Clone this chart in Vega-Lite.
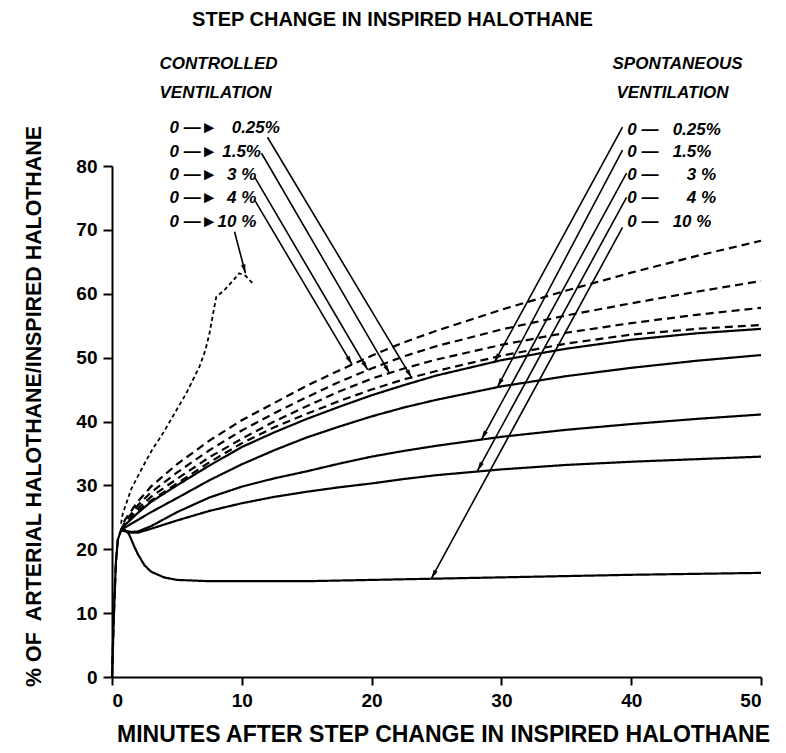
{
  "$schema": "https://vega.github.io/schema/vega-lite/v6.json",
  "width": 649,
  "height": 511,
  "autosize": {"type": "none"},
  "padding": {"left": 112, "top": 166, "right": 25, "bottom": 76},
  "background": "white",
  "title": {
    "text": "STEP CHANGE IN INSPIRED HALOTHANE",
    "font": "Liberation Sans",
    "fontSize": 20,
    "fontWeight": "bold",
    "color": "black",
    "dx": -44,
    "offset": 25
  },
  "config": {
    "view": {"stroke": null},
    "axis": {
      "grid": false,
      "domainColor": "black",
      "domainWidth": 2,
      "tickColor": "black",
      "tickWidth": 2,
      "tickSize": 9,
      "labelFont": "Liberation Sans",
      "labelFontWeight": "bold",
      "labelFontSize": 19,
      "labelColor": "black",
      "labelPadding": 6,
      "titleFont": "Liberation Sans",
      "titleFontWeight": "bold",
      "titleFontSize": 23,
      "titleColor": "black"
    }
  },
  "datasets": {
    "curves": [
      {"v": "controlled", "c": "4%", "x": 0, "y": 0}, {"v": "controlled", "c": "4%", "x": 0.15, "y": 10}, {"v": "controlled", "c": "4%", "x": 0.3, "y": 18}, {"v": "controlled", "c": "4%", "x": 0.45, "y": 21.5}, {"v": "controlled", "c": "4%", "x": 0.7, "y": 23},
      {"v": "controlled", "c": "4%", "x": 1, "y": 24.6}, {"v": "controlled", "c": "4%", "x": 2, "y": 27.5}, {"v": "controlled", "c": "4%", "x": 3, "y": 29.8}, {"v": "controlled", "c": "4%", "x": 5, "y": 33.3}, {"v": "controlled", "c": "4%", "x": 7.5, "y": 37}, {"v": "controlled", "c": "4%", "x": 10, "y": 40.2}, {"v": "controlled", "c": "4%", "x": 12.5, "y": 42.9}, {"v": "controlled", "c": "4%", "x": 15, "y": 45.6}, {"v": "controlled", "c": "4%", "x": 17.5, "y": 48}, {"v": "controlled", "c": "4%", "x": 20, "y": 50.3}, {"v": "controlled", "c": "4%", "x": 22.5, "y": 52.4}, {"v": "controlled", "c": "4%", "x": 25, "y": 54.2}, {"v": "controlled", "c": "4%", "x": 30, "y": 57.5}, {"v": "controlled", "c": "4%", "x": 35, "y": 60.5}, {"v": "controlled", "c": "4%", "x": 40, "y": 63.3}, {"v": "controlled", "c": "4%", "x": 45, "y": 65.9}, {"v": "controlled", "c": "4%", "x": 50, "y": 68.3},

      {"v": "controlled", "c": "3%", "x": 0.7, "y": 23}, {"v": "controlled", "c": "3%", "x": 1, "y": 24.3}, {"v": "controlled", "c": "3%", "x": 2, "y": 26.9}, {"v": "controlled", "c": "3%", "x": 3, "y": 28.9}, {"v": "controlled", "c": "3%", "x": 5, "y": 32}, {"v": "controlled", "c": "3%", "x": 7.5, "y": 35.5}, {"v": "controlled", "c": "3%", "x": 10, "y": 38.6}, {"v": "controlled", "c": "3%", "x": 12.5, "y": 41.3}, {"v": "controlled", "c": "3%", "x": 15, "y": 43.8}, {"v": "controlled", "c": "3%", "x": 17.5, "y": 46.2}, {"v": "controlled", "c": "3%", "x": 20, "y": 48.3}, {"v": "controlled", "c": "3%", "x": 22.5, "y": 50.2}, {"v": "controlled", "c": "3%", "x": 25, "y": 51.8}, {"v": "controlled", "c": "3%", "x": 30, "y": 54.4}, {"v": "controlled", "c": "3%", "x": 35, "y": 56.6}, {"v": "controlled", "c": "3%", "x": 40, "y": 58.5}, {"v": "controlled", "c": "3%", "x": 45, "y": 60.3}, {"v": "controlled", "c": "3%", "x": 50, "y": 62},

      {"v": "controlled", "c": "1.5%", "x": 0.7, "y": 23}, {"v": "controlled", "c": "1.5%", "x": 1, "y": 24.1}, {"v": "controlled", "c": "1.5%", "x": 2, "y": 26.4}, {"v": "controlled", "c": "1.5%", "x": 3, "y": 28.2}, {"v": "controlled", "c": "1.5%", "x": 5, "y": 31}, {"v": "controlled", "c": "1.5%", "x": 7.5, "y": 34.4}, {"v": "controlled", "c": "1.5%", "x": 10, "y": 37.3}, {"v": "controlled", "c": "1.5%", "x": 12.5, "y": 40}, {"v": "controlled", "c": "1.5%", "x": 15, "y": 42.4}, {"v": "controlled", "c": "1.5%", "x": 17.5, "y": 44.7}, {"v": "controlled", "c": "1.5%", "x": 20, "y": 46.7}, {"v": "controlled", "c": "1.5%", "x": 22.5, "y": 48.3}, {"v": "controlled", "c": "1.5%", "x": 25, "y": 49.7}, {"v": "controlled", "c": "1.5%", "x": 30, "y": 52}, {"v": "controlled", "c": "1.5%", "x": 35, "y": 53.9}, {"v": "controlled", "c": "1.5%", "x": 40, "y": 55.4}, {"v": "controlled", "c": "1.5%", "x": 45, "y": 56.7}, {"v": "controlled", "c": "1.5%", "x": 50, "y": 57.8},

      {"v": "controlled", "c": "0.25%", "x": 0.7, "y": 23}, {"v": "controlled", "c": "0.25%", "x": 1, "y": 24}, {"v": "controlled", "c": "0.25%", "x": 2, "y": 26}, {"v": "controlled", "c": "0.25%", "x": 3, "y": 27.6}, {"v": "controlled", "c": "0.25%", "x": 5, "y": 30.3}, {"v": "controlled", "c": "0.25%", "x": 7.5, "y": 33.6}, {"v": "controlled", "c": "0.25%", "x": 10, "y": 36.6}, {"v": "controlled", "c": "0.25%", "x": 12.5, "y": 39.1}, {"v": "controlled", "c": "0.25%", "x": 15, "y": 41.2}, {"v": "controlled", "c": "0.25%", "x": 17.5, "y": 43.2}, {"v": "controlled", "c": "0.25%", "x": 20, "y": 45}, {"v": "controlled", "c": "0.25%", "x": 22.5, "y": 46.6}, {"v": "controlled", "c": "0.25%", "x": 25, "y": 47.9}, {"v": "controlled", "c": "0.25%", "x": 30, "y": 50.3}, {"v": "controlled", "c": "0.25%", "x": 35, "y": 52.2}, {"v": "controlled", "c": "0.25%", "x": 40, "y": 53.6}, {"v": "controlled", "c": "0.25%", "x": 45, "y": 54.5}, {"v": "controlled", "c": "0.25%", "x": 50, "y": 55.1},

      {"v": "spontaneous", "c": "0.25%", "x": 0, "y": 0}, {"v": "spontaneous", "c": "0.25%", "x": 0.15, "y": 10}, {"v": "spontaneous", "c": "0.25%", "x": 0.3, "y": 18}, {"v": "spontaneous", "c": "0.25%", "x": 0.45, "y": 21.5}, {"v": "spontaneous", "c": "0.25%", "x": 0.7, "y": 23},
      {"v": "spontaneous", "c": "0.25%", "x": 1, "y": 23.8}, {"v": "spontaneous", "c": "0.25%", "x": 2, "y": 25.7}, {"v": "spontaneous", "c": "0.25%", "x": 3, "y": 27.4}, {"v": "spontaneous", "c": "0.25%", "x": 5, "y": 30}, {"v": "spontaneous", "c": "0.25%", "x": 7.5, "y": 33.1}, {"v": "spontaneous", "c": "0.25%", "x": 10, "y": 36}, {"v": "spontaneous", "c": "0.25%", "x": 12.5, "y": 38.3}, {"v": "spontaneous", "c": "0.25%", "x": 15, "y": 40.4}, {"v": "spontaneous", "c": "0.25%", "x": 17.5, "y": 42.3}, {"v": "spontaneous", "c": "0.25%", "x": 20, "y": 44.1}, {"v": "spontaneous", "c": "0.25%", "x": 22.5, "y": 45.7}, {"v": "spontaneous", "c": "0.25%", "x": 25, "y": 47.2}, {"v": "spontaneous", "c": "0.25%", "x": 30, "y": 49.6}, {"v": "spontaneous", "c": "0.25%", "x": 35, "y": 51.4}, {"v": "spontaneous", "c": "0.25%", "x": 40, "y": 52.8}, {"v": "spontaneous", "c": "0.25%", "x": 45, "y": 53.8}, {"v": "spontaneous", "c": "0.25%", "x": 50, "y": 54.5},

      {"v": "spontaneous", "c": "1.5%", "x": 0.7, "y": 23}, {"v": "spontaneous", "c": "1.5%", "x": 1, "y": 23.4}, {"v": "spontaneous", "c": "1.5%", "x": 2, "y": 24.6}, {"v": "spontaneous", "c": "1.5%", "x": 3, "y": 25.8}, {"v": "spontaneous", "c": "1.5%", "x": 5, "y": 28}, {"v": "spontaneous", "c": "1.5%", "x": 7.5, "y": 30.8}, {"v": "spontaneous", "c": "1.5%", "x": 10, "y": 33.3}, {"v": "spontaneous", "c": "1.5%", "x": 12.5, "y": 35.5}, {"v": "spontaneous", "c": "1.5%", "x": 15, "y": 37.5}, {"v": "spontaneous", "c": "1.5%", "x": 17.5, "y": 39.2}, {"v": "spontaneous", "c": "1.5%", "x": 20, "y": 40.8}, {"v": "spontaneous", "c": "1.5%", "x": 22.5, "y": 42.2}, {"v": "spontaneous", "c": "1.5%", "x": 25, "y": 43.4}, {"v": "spontaneous", "c": "1.5%", "x": 30, "y": 45.5}, {"v": "spontaneous", "c": "1.5%", "x": 35, "y": 47.1}, {"v": "spontaneous", "c": "1.5%", "x": 40, "y": 48.4}, {"v": "spontaneous", "c": "1.5%", "x": 45, "y": 49.5}, {"v": "spontaneous", "c": "1.5%", "x": 50, "y": 50.4},

      {"v": "spontaneous", "c": "3%", "x": 0.7, "y": 23}, {"v": "spontaneous", "c": "3%", "x": 1, "y": 22.9}, {"v": "spontaneous", "c": "3%", "x": 1.5, "y": 22.7}, {"v": "spontaneous", "c": "3%", "x": 2, "y": 22.8}, {"v": "spontaneous", "c": "3%", "x": 3, "y": 23.6}, {"v": "spontaneous", "c": "3%", "x": 5, "y": 25.8}, {"v": "spontaneous", "c": "3%", "x": 7.5, "y": 28.1}, {"v": "spontaneous", "c": "3%", "x": 10, "y": 29.8}, {"v": "spontaneous", "c": "3%", "x": 12.5, "y": 31.1}, {"v": "spontaneous", "c": "3%", "x": 15, "y": 32.2}, {"v": "spontaneous", "c": "3%", "x": 17.5, "y": 33.4}, {"v": "spontaneous", "c": "3%", "x": 20, "y": 34.5}, {"v": "spontaneous", "c": "3%", "x": 22.5, "y": 35.4}, {"v": "spontaneous", "c": "3%", "x": 25, "y": 36.2}, {"v": "spontaneous", "c": "3%", "x": 30, "y": 37.6}, {"v": "spontaneous", "c": "3%", "x": 35, "y": 38.7}, {"v": "spontaneous", "c": "3%", "x": 40, "y": 39.6}, {"v": "spontaneous", "c": "3%", "x": 45, "y": 40.4}, {"v": "spontaneous", "c": "3%", "x": 50, "y": 41.1},

      {"v": "spontaneous", "c": "4%", "x": 0.7, "y": 23}, {"v": "spontaneous", "c": "4%", "x": 1, "y": 22.8}, {"v": "spontaneous", "c": "4%", "x": 1.5, "y": 22.6}, {"v": "spontaneous", "c": "4%", "x": 2, "y": 22.6}, {"v": "spontaneous", "c": "4%", "x": 3, "y": 23.2}, {"v": "spontaneous", "c": "4%", "x": 5, "y": 24.5}, {"v": "spontaneous", "c": "4%", "x": 7.5, "y": 26}, {"v": "spontaneous", "c": "4%", "x": 10, "y": 27.2}, {"v": "spontaneous", "c": "4%", "x": 12.5, "y": 28.2}, {"v": "spontaneous", "c": "4%", "x": 15, "y": 29}, {"v": "spontaneous", "c": "4%", "x": 17.5, "y": 29.7}, {"v": "spontaneous", "c": "4%", "x": 20, "y": 30.3}, {"v": "spontaneous", "c": "4%", "x": 22.5, "y": 31}, {"v": "spontaneous", "c": "4%", "x": 25, "y": 31.6}, {"v": "spontaneous", "c": "4%", "x": 30, "y": 32.5}, {"v": "spontaneous", "c": "4%", "x": 35, "y": 33.2}, {"v": "spontaneous", "c": "4%", "x": 40, "y": 33.7}, {"v": "spontaneous", "c": "4%", "x": 45, "y": 34.1}, {"v": "spontaneous", "c": "4%", "x": 50, "y": 34.5},

      {"v": "spontaneous", "c": "10%", "x": 0.7, "y": 23}, {"v": "spontaneous", "c": "10%", "x": 1, "y": 23}, {"v": "spontaneous", "c": "10%", "x": 1.3, "y": 22.4}, {"v": "spontaneous", "c": "10%", "x": 1.7, "y": 20.5}, {"v": "spontaneous", "c": "10%", "x": 2, "y": 19.2}, {"v": "spontaneous", "c": "10%", "x": 2.5, "y": 17.5}, {"v": "spontaneous", "c": "10%", "x": 3, "y": 16.5}, {"v": "spontaneous", "c": "10%", "x": 4, "y": 15.6}, {"v": "spontaneous", "c": "10%", "x": 5, "y": 15.2}, {"v": "spontaneous", "c": "10%", "x": 7.5, "y": 15}, {"v": "spontaneous", "c": "10%", "x": 10, "y": 15}, {"v": "spontaneous", "c": "10%", "x": 15, "y": 15}, {"v": "spontaneous", "c": "10%", "x": 20, "y": 15.2}, {"v": "spontaneous", "c": "10%", "x": 25, "y": 15.4}, {"v": "spontaneous", "c": "10%", "x": 30, "y": 15.6}, {"v": "spontaneous", "c": "10%", "x": 40, "y": 16}, {"v": "spontaneous", "c": "10%", "x": 50, "y": 16.3}
    ],
    "dotted": [
      {"x": 0.7, "y": 24}, {"x": 0.83, "y": 25.6}, {"x": 1.5, "y": 29.5}, {"x": 2.37, "y": 32.9}, {"x": 3.1, "y": 35.6}, {"x": 3.91, "y": 38.1}, {"x": 4.8, "y": 41.2}, {"x": 5.72, "y": 44.4}, {"x": 6.74, "y": 48.6}, {"x": 7.2, "y": 51.2}, {"x": 7.51, "y": 53.8}, {"x": 7.8, "y": 57}, {"x": 8.03, "y": 59.5}, {"x": 8.67, "y": 60.6}, {"x": 9.3, "y": 62}, {"x": 9.8, "y": 63.2}, {"x": 10.3, "y": 62.8}, {"x": 10.85, "y": 61.6}
    ],
    "arrows": [
      {"x": 11.98, "y": 84.5, "x2": 23.1, "y2": 46.8},
      {"x": 11.52, "y": 82.0, "x2": 21.4, "y2": 47.5},
      {"x": 10.98, "y": 78.3, "x2": 19.7, "y2": 48.1},
      {"x": 10.98, "y": 74.7, "x2": 18.5, "y2": 48.9},
      {"x": 9.44, "y": 69.7, "x2": 10.28, "y2": 63.2},
      {"x": 39.33, "y": 86.1, "x2": 29.47, "y2": 49.3},
      {"x": 39.33, "y": 82.5, "x2": 29.7, "y2": 45.4},
      {"x": 39.64, "y": 78.9, "x2": 28.47, "y2": 37.2},
      {"x": 39.64, "y": 75.1, "x2": 28.16, "y2": 32.3},
      {"x": 39.33, "y": 70.4, "x2": 24.6, "y2": 15.4}
    ],
    "labels": [
      {"x": 3.66, "y": 95.9, "text": "CONTROLLED"},
      {"x": 3.66, "y": 91.4, "text": "VENTILATION"},
      {"x": 4.43, "y": 85.9, "text": "0 —►\u00a0\u00a0 0.25%"},
      {"x": 4.43, "y": 82.2, "text": "0 —► 1.5%"},
      {"x": 4.43, "y": 78.6, "text": "0 —►\u00a0 3 %"},
      {"x": 4.43, "y": 75.0, "text": "0 —►\u00a0 4 %"},
      {"x": 4.43, "y": 71.3, "text": "0 —►10 %"},
      {"x": 38.56, "y": 95.9, "text": "SPONTANEOUS"},
      {"x": 38.87, "y": 91.4, "text": "VENTILATION"},
      {"x": 39.7, "y": 85.6, "text": "0 —\u00a0\u00a0 0.25%"},
      {"x": 39.7, "y": 82.2, "text": "0 —\u00a0\u00a0 1.5%"},
      {"x": 39.7, "y": 78.6, "text": "0 —\u00a0\u00a0\u00a0\u00a0\u00a0 3 %"},
      {"x": 39.7, "y": 75.0, "text": "0 —\u00a0\u00a0\u00a0\u00a0\u00a0 4 %"},
      {"x": 39.7, "y": 71.3, "text": "0 —\u00a0\u00a0 10 %"}
    ]
  },
  "encoding": {
    "x": {
      "field": "x",
      "type": "quantitative",
      "scale": {"domain": [0, 50], "nice": false},
      "axis": {
        "title": "MINUTES AFTER STEP CHANGE IN INSPIRED HALOTHANE",
        "values": [0, 10, 20, 30, 40, 50],
        "tickSize": 8,
        "labelPadding": 6,
        "titlePadding": 13,
        "titleX": 331
      }
    },
    "y": {
      "field": "y",
      "type": "quantitative",
      "scale": {"domain": [0, 80], "nice": false},
      "axis": {
        "title": "% OF\u00a0 ARTERIAL HALOTHANE/INSPIRED HALOTHANE",
        "values": [0, 10, 20, 30, 40, 50, 60, 70, 80],
        "titlePadding": 31,
        "titleFontSize": 21.4,
        "titleY": 240
      }
    }
  },
  "layer": [
    {
      "data": {"name": "curves"},
      "mark": {"type": "line", "color": "black", "strokeWidth": 2.2},
      "encoding": {
        "strokeDash": {
          "field": "v",
          "type": "nominal",
          "scale": {"domain": ["controlled", "spontaneous"], "range": [[8, 5], [1, 0]]},
          "legend": null
        },
        "detail": {"field": "c", "type": "nominal"}
      }
    },
    {
      "data": {"name": "dotted"},
      "mark": {"type": "line", "color": "black", "strokeWidth": 1.8, "strokeDash": [4, 3]},
      "encoding": {}
    },
    {
      "data": {"name": "arrows"},
      "mark": {"type": "rule", "color": "black", "strokeWidth": 1.6},
      "encoding": {
        "x2": {"field": "x2"},
        "y2": {"field": "y2"}
      }
    },
    {
      "data": {"name": "arrows"},
      "transform": [
        {"calculate": "atan2((datum.x2 - datum.x) * 649 / 50, (datum.y2 - datum.y) * 511 / 80) * 180 / PI", "as": "angle"}
      ],
      "mark": {"type": "point", "shape": "M0,0L-1,4L1,4Z", "filled": true, "size": 20, "color": "black", "opacity": 1},
      "encoding": {
        "x": {"field": "x2", "type": "quantitative"},
        "y": {"field": "y2", "type": "quantitative"},
        "angle": {"field": "angle", "type": "quantitative", "scale": null}
      }
    },
    {
      "data": {"name": "labels"},
      "mark": {
        "type": "text",
        "align": "left",
        "baseline": "middle",
        "font": "Liberation Sans",
        "fontSize": 17,
        "fontStyle": "italic",
        "fontWeight": "bold",
        "color": "black"
      },
      "encoding": {
        "text": {"field": "text", "type": "nominal"}
      }
    }
  ]
}
